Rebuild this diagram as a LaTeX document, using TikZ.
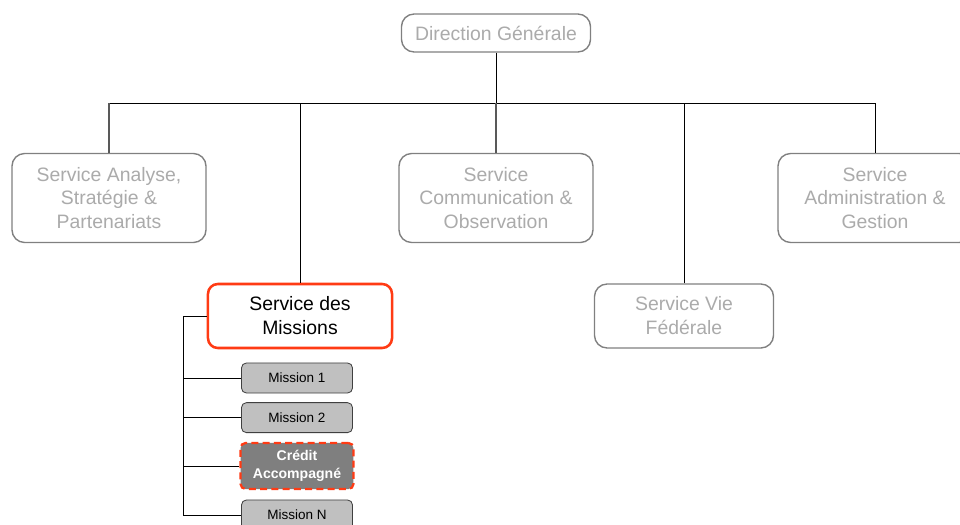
\documentclass[tikz,border=0pt]{standalone}
\usepackage{fontspec}
\setmainfont{Liberation Sans}
\usepackage{tikz}
\usetikzlibrary{positioning}

\definecolor{boxgray}{HTML}{808080}
\definecolor{textgray}{HTML}{ABABAB}
\definecolor{missred}{HTML}{FF3B14}
\definecolor{missfill}{HTML}{C0C0C0}
\definecolor{creditfill}{HTML}{7F7F7F}

\begin{document}
\begin{tikzpicture}[
    x=0.025cm, y=-0.025cm,
    box/.style={
        rectangle, rounded corners=9pt, draw=boxgray, line width=1pt, fill=white,
        text=textgray, align=center, inner sep=2pt,
        font=\fontsize{13.8}{17}\selectfont
    },
    bigbox/.style={box, minimum height=2.225cm, minimum width=4.85cm},
    mainbox/.style={box, rounded corners=7pt, draw=missred, line width=1.8pt, text=black,
        minimum height=1.6cm, minimum width=4.6cm},
    mission/.style={
        rectangle, rounded corners=3.5pt, draw=black!75, line width=0.6pt, fill=missfill,
        minimum height=0.75cm, minimum width=2.775cm, align=center,
        font=\fontsize{9.6}{11}\selectfont
    },
    credit/.style={mission, fill=creditfill, draw=missred, line width=1.6pt,
        dash pattern=on 5pt off 3pt, text=white, minimum height=1.15cm, minimum width=2.82cm,
        font=\fontsize{10}{12.5}\selectfont\bfseries},
    line/.style={draw, line width=0.6pt},
    greyline/.style={draw=black!65, line width=0.8pt}
]
\useasboundingbox (0,0) rectangle (960,525);

% Top level
\node[box, minimum height=0.95cm, minimum width=4.725cm] (direction) at (496,33) {Direction Générale};
\coordinate (bus) at (496,103);

% Second level
\node[bigbox] (analyse) at (109,198) {Service Analyse,\\ Stratégie \&\\ Partenariats};
\node[bigbox] (communication) at (496,198) {Service\\ Communication \&\\ Observation};
\node[bigbox] (administration) at (875,198) {Service\\ Administration \&\\ Gestion};

% Third level
\node[mainbox] (missions) at (300,316) {Service des\\ Missions};
\node[box, minimum height=1.6cm, minimum width=4.475cm] (vie) at (684,316) {Service Vie\\ Fédérale};

% Missions
\node[mission] (mission1) at (297,378) {Mission 1};
\node[mission, below=0.22cm of mission1] (mission2) {Mission 2};
\node[credit] (credit) at (297,466) {Crédit\\ Accompagné};
\node[mission] (missionN) at (297,515) {Mission N};
\coordinate (rail) at (183,316);

% Draw connections
\draw[line] (direction) -- (bus);
\draw[line] (analyse.north |- bus) -- (administration.north |- bus);
\draw[greyline] (analyse.north) -- (analyse.north |- bus);
\draw[greyline] (communication.north) -- (bus);
\draw[line] (administration.north) -- (administration.north |- bus);
\draw[line] (missions.north) -- (missions.north |- bus);
\draw[line] (vie.north) -- (vie.north |- bus);

% Missions bracket
\draw[line] (missions.west) -- (rail) |- (missionN.west);
\draw[line] (rail |- mission1.west) -- (mission1.west);
\draw[line] (rail |- mission2.west) -- (mission2.west);
\draw[line] (rail |- credit.west) -- (credit.west);

\end{tikzpicture}
\end{document}
